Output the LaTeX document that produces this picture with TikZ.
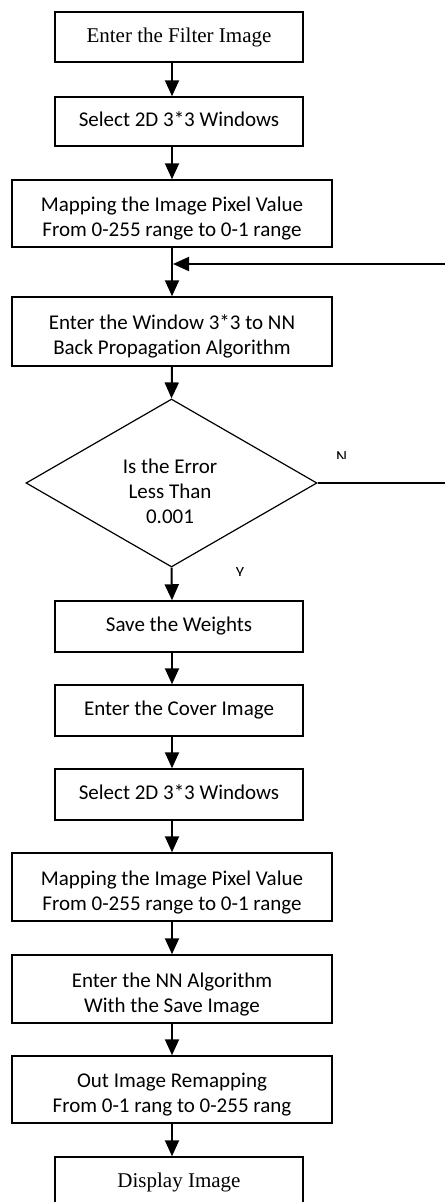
\documentclass[tikz,border=0pt]{standalone}
\usepackage{fontspec}
\setmainfont[Ligatures=NoCommon]{Carlito}
\newfontfamily\tnr{Liberation Serif}
\usetikzlibrary{arrows.meta,shapes.geometric}
\begin{document}
\begin{tikzpicture}[x=1pt,y=-1pt,
  box/.style={draw,line width=1.5pt,rectangle,inner sep=0pt,align=center,
    font=\fontsize{21}{25}\selectfont,text height=14pt,text depth=4pt},
  two/.style={text height=50pt,text depth=4pt},
  narrow/.style={box,minimum width=248pt},
  wide/.style={box,minimum width=320pt},
  serif/.style={font=\tnr\fontsize{21}{25}\selectfont},
  arr/.style={line width=2pt,-{Triangle[length=16pt,width=14pt]}},
  ln/.style={line width=1.5pt},
  yn/.style={inner sep=0pt,anchor=base,font=\fontsize{17}{17}\selectfont}]
\useasboundingbox (0,0) rectangle (445,1202);
\clip (0,0) rectangle (445,1202);
\coordinate (ax) at (172,0);
% boxes
\node[narrow,serif,minimum height=50pt] (b1) at (179,37) {Enter the Filter Image};
\node[narrow,minimum height=49pt] (b2) at (179,121.5) {Select 2D 3*3 Windows};
\node[wide,two,minimum height=67pt] (b3) at (172,213.5) {Mapping the Image Pixel Value\\From 0-255 range to 0-1 range};
\node[wide,two,minimum height=69pt] (b4) at (172,331.5) {Enter the Window 3*3 to NN\\Back Propagation Algorithm};
\node[draw,diamond,line width=1.2pt,inner sep=0pt,aspect=1.73,minimum width=291pt,minimum height=168pt] (d) at (171.5,483) {};
\node[align=center,inner sep=0pt,font=\fontsize{21}{25}\selectfont,text height=64pt,text depth=4pt] (dt) at (170,493) {Is the Error\\Less Than\\0.001};
\node[narrow,minimum height=51pt] (b5) at (179,626.5) {Save the Weights};
\node[narrow,minimum height=51pt] (b6) at (179,710.5) {Enter the Cover Image};
\node[narrow,minimum height=51pt] (b7) at (179,794.5) {Select 2D 3*3 Windows};
\node[wide,two,minimum height=68pt] (b8) at (172,887) {Mapping the Image Pixel Value\\From 0-255 range to 0-1 range};
\node[wide,two,minimum height=68pt] (b9) at (172,989) {Enter the NN Algorithm\\With the Save Image};
\node[wide,two,minimum height=67pt] (b10) at (172,1089.5) {Out Image Remapping\\From 0-1 rang to 0-255 rang};
\node[narrow,serif,minimum height=50pt] (b11) at (179,1182) {Display Image};
% connectors
\draw[arr] (b1.south -| ax) -- (b2.north -| ax);
\draw[arr] (b2.south -| ax) -- (b3.north -| ax);
\draw[arr] (b3.south -| ax) -- (b4.north -| ax);
\draw[arr] (b4.south -| ax) -- (d.north);
\draw[arr] (d.south) -- (b5.north -| ax);
\draw[arr] (b5.south -| ax) -- (b6.north -| ax);
\draw[arr] (b6.south -| ax) -- (b7.north -| ax);
\draw[arr] (b7.south -| ax) -- (b8.north -| ax);
\draw[arr] (b8.south -| ax) -- (b9.north -| ax);
\draw[arr] (b9.south -| ax) -- (b10.north -| ax);
\draw[arr] (b10.south -| ax) -- (b11.north -| ax);
% loop back
\coordinate (dR) at (445,483);
\draw[ln] (d.east) -- (dR);
\coordinate (fbR) at (445,264);
\coordinate (fbJ) at (ax |- fbR);
\draw[arr,shorten >=1pt] (fbR) -- (fbJ);
% labels
\begin{scope}
\clip (325,450) rectangle (360,458.5);
\node[yn] (nl) at (341.5,462.9) {N};
\end{scope}
\begin{scope}
\clip (225,566) rectangle (255,575.5);
\node[yn] (yl) at (240,578.9) {Y};
\end{scope}
\end{tikzpicture}
\end{document}
